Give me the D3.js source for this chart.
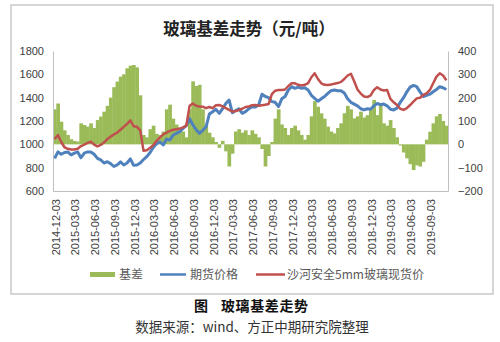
<!DOCTYPE html>
<html><head><meta charset="utf-8">
<script src="https://cdn.jsdelivr.net/npm/d3@7"></script>
<style>
html,body{margin:0;padding:0;background:#fff;}
svg{display:block;}
</style></head>
<body>
<svg id="c" width="500" height="342"></svg>
<script>
// ---- data (semi-monthly observations, Dec 2014 – Nov 2019) ----
const futures = [880,935,915,930,935,910,925,935,885,925,935,935,915,880,866,840,851,835,810,823,
850,823,840,875,820,823,840,870,895,930,975,1005,1020,995,1045,1037,1080,1094,1109,1137,
1160,1220,1166,1125,1094,1120,1150,1260,1280,1300,1266,1305,1350,1380,1270,1290,1305,1266,1280,1305,
1323,1320,1340,1430,1410,1400,1366,1360,1323,1390,1410,1466,1494,1480,1490,1480,1485,1466,1420,1394,
1370,1390,1410,1437,1460,1466,1460,1460,1440,1390,1360,1345,1330,1305,1295,1305,1300,1330,1350,1340,
1345,1330,1300,1295,1310,1360,1400,1450,1490,1505,1495,1450,1410,1420,1430,1450,1470,1494,1485,1470];
const spot = [1045,1080,1020,975,962,955,955,962,985,998,1012,1023,998,982,995,1015,1045,1066,1085,1100,
1125,1150,1175,1205,1155,1150,1120,945,950,970,995,1030,1060,1085,1100,1115,1125,1130,1135,1145,
1160,1330,1350,1330,1325,1323,1310,1320,1310,1335,1337,1325,1310,1295,1280,1285,1294,1305,1320,1325,
1335,1337,1330,1335,1340,1345,1430,1460,1466,1466,1470,1500,1523,1523,1510,1505,1510,1525,1575,1609,
1560,1523,1510,1509,1512,1520,1525,1535,1560,1590,1605,1540,1470,1435,1410,1405,1420,1466,1490,1470,
1462,1466,1390,1360,1337,1305,1295,1310,1337,1366,1394,1400,1423,1437,1466,1523,1580,1609,1590,1550];
const basis = [150,175,97,60,40,22,15,12,90,83,76,90,70,104,119,140,165,200,245,269,
290,300,326,337,340,330,210,40,30,65,80,45,40,55,150,170,110,85,60,55,
30,150,270,250,255,150,80,50,30,10,-15,15,-30,-95,-40,55,65,50,60,40,
60,45,30,-20,-95,-50,10,110,150,85,70,40,70,80,60,40,20,40,120,185,
161,133,110,76,55,47,70,90,133,165,150,111,120,140,115,125,147,190,125,176,
90,80,104,70,30,-5,-35,-60,-85,-110,-90,-95,-75,20,54,90,120,130,100,80];
const tickLabels = ["2014-12-03","2015-03-03","2015-06-03","2015-09-03","2015-12-03","2016-03-03",
"2016-06-03","2016-09-03","2016-12-03","2017-03-03","2017-06-03","2017-09-03","2017-12-03",
"2018-03-03","2018-06-03","2018-09-03","2018-12-03","2019-03-03","2019-06-03","2019-09-03"];
const leftTicks = [600,800,1000,1200,1400,1600,1800];
const rightTicks = [-200,-100,0,100,200,300,400];
const seriesNames = ["基差","期货价格","沙河安全5mm玻璃现货价"];
const colors = {basis:"#9BBB59", fut:"#4F81BD", spot:"#C0504D"};

// categories: the 3rd and 18th of each month
const dates = [];
for (let y = 2014, m = 12; dates.length < futures.length; ) {
  const mm = String(m).padStart(2,"0");
  dates.push(`${y}-${mm}-03`);
  dates.push(`${y}-${mm}-18`);
  m++; if (m > 12) { m = 1; y++; }
}

const svg = d3.select("#c");
const L = 53, R = 448, T = 51, B = 191;
const x = d3.scaleBand().domain(dates).range([L, R]).padding(0);
const yL = d3.scaleLinear().domain([600,1800]).range([B, T]);
const yR = d3.scaleLinear().domain([-200,400]).range([B, T]);
const font = "'Liberation Sans', Arial, sans-serif";
const cjk = "'Noto Sans CJK SC', sans-serif";

// outer frame
svg.append("rect").attr("x",11).attr("y",5).attr("width",482).attr("height",289)
  .attr("fill","none").attr("stroke","#C8C8C8").attr("stroke-width",1.5);

// title
svg.append("text").attr("x",249).attr("y",35).attr("text-anchor","middle")
  .attr("font-family",cjk).attr("font-size",16.5).attr("font-weight",700).attr("fill","#222")
  .text("玻璃基差走势（元/吨）");

// basis bars
const bw = x.bandwidth();
svg.append("g").selectAll("rect").data(basis).join("rect")
  .attr("x",(d,i)=>x(dates[i]))
  .attr("width",bw+0.4)
  .attr("y",d=>Math.min(yR(d),yR(0)))
  .attr("height",d=>Math.abs(yR(d)-yR(0)))
  .attr("fill",colors.basis);

// axes
const axL = svg.append("g").attr("transform",`translate(${L},0)`)
  .call(d3.axisLeft(yL).tickValues(leftTicks).tickFormat(d3.format("d")).tickSize(0).tickPadding(9));
const axR = svg.append("g").attr("transform",`translate(${R},0)`)
  .call(d3.axisRight(yR).tickValues(rightTicks).tickFormat(d3.format("d")).tickSize(0).tickPadding(10));
const labelIdx = new Set(tickLabels);
const axB = svg.append("g").attr("transform",`translate(0,${B})`)
  .call(d3.axisBottom(x).tickValues(dates.filter(d=>labelIdx.has(d))).tickSize(0).tickPadding(0));
[axL,axR,axB].forEach(a=>{
  a.select(".domain").attr("stroke","#BFBFBF").attr("stroke-width",1);
  a.selectAll("text").attr("font-family",font).attr("font-size",11).attr("fill","#404040");
});
axB.selectAll("text")
  .attr("transform","rotate(-90)")
  .attr("text-anchor","end")
  .attr("x",-8).attr("y",1).attr("dy","0.35em");

// lines
const line = (arr, sc) => d3.line().x((d,i)=>x(dates[i])+bw/2).y(d=>sc(d))(arr);
svg.append("path").attr("d",line(futures,yL)).attr("fill","none")
  .attr("stroke",colors.fut).attr("stroke-width",3).attr("stroke-linejoin","round");
svg.append("path").attr("d",line(spot,yL)).attr("fill","none")
  .attr("stroke",colors.spot).attr("stroke-width",2.5).attr("stroke-linejoin","round");

// legend
const lg = svg.append("g").attr("font-family",cjk).attr("font-size",12).attr("fill","#595959");
lg.append("rect").attr("x",90).attr("y",272).attr("width",25).attr("height",5).attr("fill",colors.basis);
lg.append("text").attr("x",119).attr("y",279).text(seriesNames[0]);
lg.append("line").attr("x1",160).attr("x2",186).attr("y1",274.5).attr("y2",274.5)
  .attr("stroke",colors.fut).attr("stroke-width",2.5);
lg.append("text").attr("x",190).attr("y",279).text(seriesNames[1]);
lg.append("line").attr("x1",256).attr("x2",285).attr("y1",274.5).attr("y2",274.5)
  .attr("stroke",colors.spot).attr("stroke-width",2.5);
lg.append("text").attr("x",287).attr("y",279).text(seriesNames[2]);

// caption
svg.append("text").attr("x",194).attr("y",311).attr("font-family",cjk)
  .attr("font-size",14).attr("font-weight",700).attr("fill","#111").text("图");
svg.append("text").attr("x",221).attr("y",311).attr("font-family",cjk)
  .attr("font-size",14).attr("font-weight",700).attr("letter-spacing",0.6).attr("fill","#111").text("玻璃基差走势");
svg.append("text").attr("x",252).attr("y",332).attr("text-anchor","middle").attr("font-family",cjk)
  .attr("font-size",13.5).attr("fill","#333").text("数据来源：wind、方正中期研究院整理");
</script>
</body></html>
